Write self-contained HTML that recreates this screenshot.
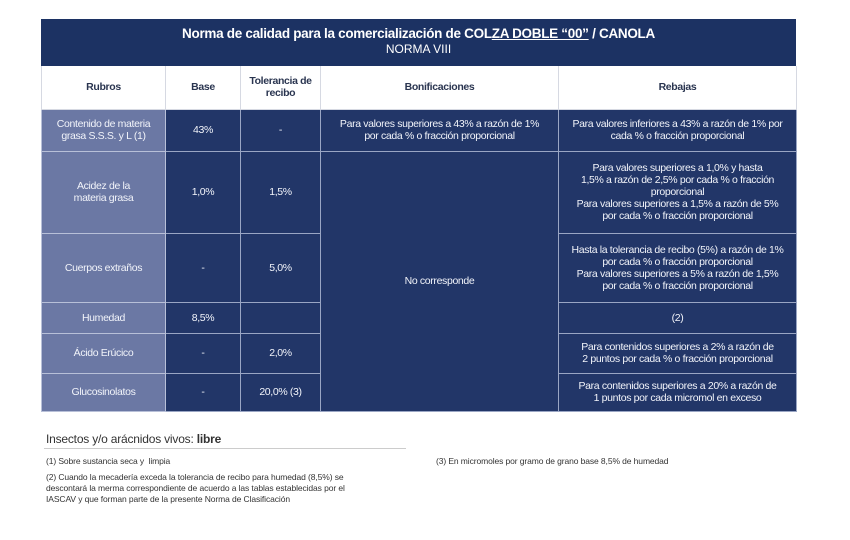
<!DOCTYPE html>
<html><head><meta charset="utf-8"><style>
body{margin:0;width:850px;height:540px;background:#fff;font-family:"Liberation Sans",sans-serif;position:relative;overflow:hidden}
.title{position:absolute;left:41px;top:19px;width:755px;height:47px;background:#1c3263;color:#fff;text-align:center}
.title .t1{font-weight:bold;font-size:13.5px;margin-top:7px;letter-spacing:-0.3px}
.title .t2{font-size:12px;margin-top:1px}
table{position:absolute;left:41px;top:66px;border-collapse:collapse;table-layout:fixed;width:755px;font-size:10.5px;letter-spacing:-0.35px;line-height:12px}
td{text-align:center;vertical-align:middle;padding:0 3px;border:1px solid #9aa6c4;color:#f2f4fa;background:#223668}
tr.h td{background:#fff;color:#2a3550;font-weight:bold;border-color:#d6d9e2;border-top:none}
td.r{background:#6b78a4;border-color:#b8c0d8}
td.rb{padding:0 8px}
.foot{position:absolute;font-size:8.5px;color:#333;line-height:11px;letter-spacing:-0.1px}
</style></head><body>
<div class="title"><div class="t1">Norma de calidad para la comercialización de COL<u>ZA DOBLE “00”</u> / CANOLA</div><div class="t2">NORMA VIII</div></div>
<table>
<colgroup><col style="width:124px"><col style="width:75px"><col style="width:80px"><col style="width:238px"><col style="width:238px"></colgroup>
<tr class="h" style="height:43px"><td>Rubros</td><td>Base</td><td>Tolerancia de recibo</td><td>Bonificaciones</td><td>Rebajas</td></tr>
<tr style="height:42px"><td class="r">Contenido de materia grasa S.S.S. y L (1)</td><td>43%</td><td>-</td><td>Para valores superiores a 43% a razón de 1%<br>por cada % o fracción proporcional</td><td>Para valores inferiores a 43% a razón de 1% por<br>cada % o fracción proporcional</td></tr>
<tr style="height:82px"><td class="r">Acidez de la<br>materia grasa</td><td>1,0%</td><td>1,5%</td><td rowspan="5">No corresponde</td><td class="rb">Para valores superiores a 1,0% y hasta<br>1,5% a razón de 2,5% por cada % o fracción<br>proporcional<br>Para valores superiores a 1,5% a razón de 5%<br>por cada % o fracción proporcional</td></tr>
<tr style="height:69px"><td class="r">Cuerpos extraños</td><td>-</td><td>5,0%</td><td class="rb">Hasta la tolerancia de recibo (5%) a razón de 1%<br>por cada % o fracción proporcional<br>Para valores superiores a 5% a razón de 1,5%<br>por cada % o fracción proporcional</td></tr>
<tr style="height:31px"><td class="r">Humedad</td><td>8,5%</td><td></td><td>(2)</td></tr>
<tr style="height:40px"><td class="r">Ácido Erúcico</td><td>-</td><td>2,0%</td><td>Para contenidos superiores a 2% a razón de<br>2 puntos por cada % o fracción proporcional</td></tr>
<tr style="height:38px"><td class="r">Glucosinolatos</td><td>-</td><td>20,0% (3)</td><td>Para contenidos superiores a 20% a razón de<br>1 puntos por cada micromol en exceso</td></tr>
</table>
<div style="position:absolute;left:46px;top:432px;font-size:12px;color:#333;letter-spacing:-0.2px">Insectos y/o arácnidos vivos: <b>libre</b></div>
<div style="position:absolute;left:44px;top:448px;width:362px;height:1px;background:#ccc"></div>
<div class="foot" style="left:46px;top:456px">(1) Sobre sustancia seca y &nbsp;limpia</div>
<div class="foot" style="left:46px;top:472px;width:380px">(2) Cuando la mecadería exceda la tolerancia de recibo para humedad (8,5%) se<br>descontará la merma correspondiente de acuerdo a las tablas establecidas por el<br>IASCAV y que forman parte de la presente Norma de Clasificación</div>
<div class="foot" style="left:436px;top:456px">(3) En micromoles por gramo de grano base 8,5% de humedad</div>
</body></html>
